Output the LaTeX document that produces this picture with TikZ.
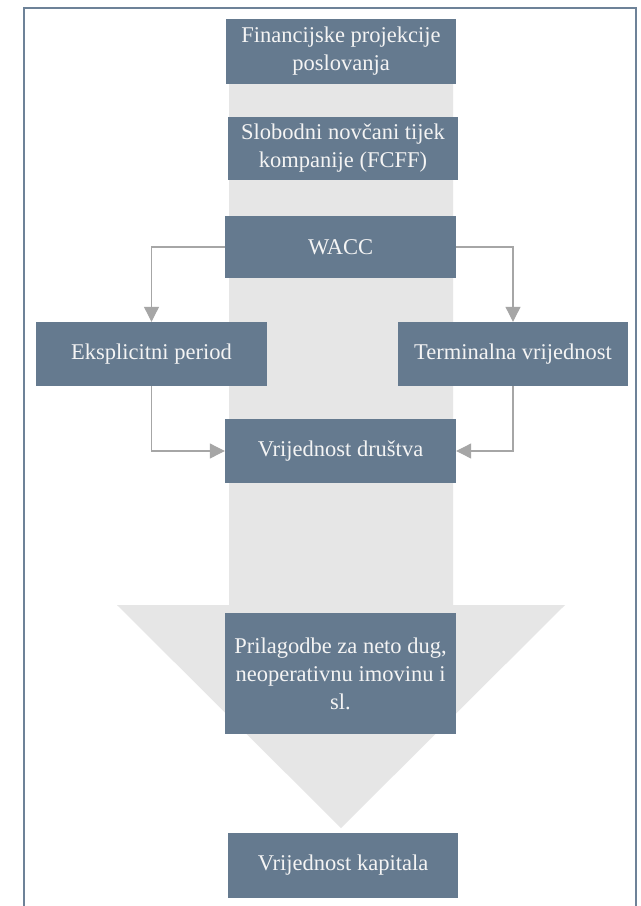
\documentclass[tikz,border=0pt]{standalone}
\usepackage{fontspec}
\setmainfont{Liberation Serif}
\usetikzlibrary{arrows.meta}
\definecolor{boxfill}{HTML}{657A8F}
\definecolor{bandgray}{HTML}{E6E6E6}
\definecolor{linkgray}{HTML}{A6A6A6}
\definecolor{framecol}{HTML}{6D8298}
\definecolor{txtcol}{HTML}{F4F4F4}
\tikzset{
  stepbox/.style={fill=boxfill, draw=none, text=txtcol, align=center, inner sep=0pt,
    font=\fontsize{22.5bp}{28bp}\selectfont},
  link/.style={draw=linkgray, line width=1.1bp, -{Triangle[length=15bp,width=15bp]}, fill=none},
}
\begin{document}
\begin{tikzpicture}[x=1bp,y=-1bp]
\useasboundingbox (0,0) rectangle (641,906);
\clip (0,0) rectangle (641,906);
\fill[white] (0,0) rectangle (641,906);
% frame
\draw[framecol, line width=2.5bp] (24,8) rectangle (636,930);
% big gray block arrow
\fill[bandgray] (229,40) -- (453,40) -- (453,605) -- (565,605) -- (341,828) -- (117,605) -- (229,605) -- cycle;
% boxes
\node[stepbox, minimum width=230bp, minimum height=65bp] (fin) at (341,51.5) {Financijske projekcije\\poslovanja};
\node[stepbox, minimum width=230bp, minimum height=63bp] (fcff) at (343,148.5) {Slobodni novčani tijek\\kompanije (FCFF)};
\node[stepbox, minimum width=231bp, minimum height=62bp] (wacc) at (340.5,247) {WACC};
\node[stepbox, minimum width=231bp, minimum height=64bp] (eks) at (151.5,354) {Eksplicitni period};
\node[stepbox, minimum width=230bp, minimum height=64bp] (term) at (513,354) {Terminalna vrijednost};
\node[stepbox, minimum width=231bp, minimum height=64bp] (vdr) at (340.5,451) {Vrijednost društva};
\node[stepbox, minimum width=231bp, minimum height=121bp] (pril) at (340.5,673.5) {Prilagodbe za neto dug,\\neoperativnu imovinu i\\sl.};
\node[stepbox, minimum width=230bp, minimum height=65bp] (vkap) at (343,865.5) {Vrijednost kapitala};
% connectors
\draw[link] (wacc.west) -| (eks.north);
\draw[link] (wacc.east) -| (term.north);
\draw[link] (eks.south) |- (vdr.west);
\draw[link] (term.south) |- (vdr.east);
\end{tikzpicture}
\end{document}
